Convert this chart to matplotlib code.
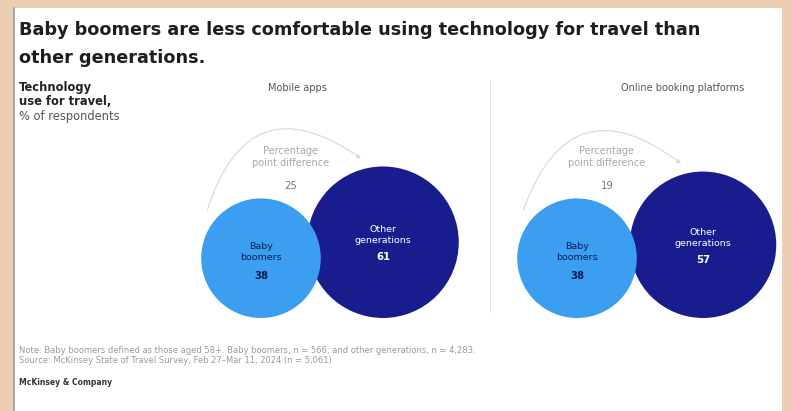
import matplotlib.pyplot as plt
from matplotlib.patches import Circle, Rectangle

# survey values, % of respondents
panels = ['Mobile apps', 'Online booking platforms']
boomers = [38, 38]
others = [61, 57]
pp_diff = [25, 19]

W, H = 792, 411
BEIGE = '#ecceb4'
LIGHT = '#3c9ef0'
DARK = '#181c8c'

fig = plt.figure(figsize=(W / 100, H / 100), dpi=100)
ax = fig.add_axes([0, 0, 1, 1])
ax.set_xlim(0, W)
ax.set_ylim(H, 0)
ax.axis('off')
fig.patch.set_facecolor(BEIGE)

# white card with a thin grey left edge
ax.add_patch(Rectangle((14, 8), 768, 420, facecolor='white', edgecolor='none', zorder=0))
ax.plot([14, 14], [8, H], color='#9a9a9a', lw=1.2, zorder=1)

ax.text(19, 30, 'Baby boomers are less comfortable using technology for travel than',
        fontsize=12.7, fontweight='bold', color='#1e1e1e', va='center')
ax.text(19, 58, 'other generations.', fontsize=12.7, fontweight='bold',
        color='#1e1e1e', va='center')

ax.text(19, 88, 'Technology', fontsize=8.3, fontweight='bold', color='#222222', va='center')
ax.text(19, 101, 'use for travel,', fontsize=8.3, fontweight='bold', color='#222222', va='center')
ax.text(19, 116, '% of respondents', fontsize=8.3, color='#555555', va='center')

# divider between the two panels
ax.plot([490, 490], [80, 312], color='#e4e4e4', lw=0.8)

k = 9.7          # radius scale, area proportional to value
base_y = 318     # circles sit on a common baseline
light_x = [261, 577]
dark_x = [383, 703]
title_x = [297, 683]

for i, name in enumerate(panels):
    ax.text(title_x[i], 88, name, fontsize=7, color='#555555', ha='center', va='center')

    rb = k * boomers[i] ** 0.5
    ro = k * others[i] ** 0.5
    cb = (light_x[i], base_y - rb)
    co = (dark_x[i], base_y - ro)
    ax.add_patch(Circle(co, ro, facecolor=DARK, edgecolor='none', zorder=2))
    ax.add_patch(Circle(cb, rb, facecolor=LIGHT, edgecolor='none', zorder=3))

    ax.text(cb[0], cb[1] - 6, 'Baby\nboomers', fontsize=6.8, color='#0b1e52',
            ha='center', va='center', linespacing=1.3, zorder=4)
    ax.text(cb[0], cb[1] + 18, str(boomers[i]), fontsize=7.3, fontweight='bold',
            color='#0b1e52', ha='center', va='center', zorder=4)
    ax.text(co[0], co[1] - 7, 'Other\ngenerations', fontsize=6.8, color='white',
            ha='center', va='center', linespacing=1.3, zorder=4)
    ax.text(co[0], co[1] + 15, str(others[i]), fontsize=7.3, fontweight='bold',
            color='white', ha='center', va='center', zorder=4)

    # curved arrow from the smaller circle to the larger one
    ax.annotate('', xy=(co[0] - 22, co[1] - ro - 8), xytext=(cb[0] - rb + 6, cb[1] - rb + 12),
                arrowprops=dict(arrowstyle='-|>', color='#d8d8d8', lw=0.8,
                                mutation_scale=6, shrinkA=0, shrinkB=0,
                                connectionstyle='arc3,rad=-0.68'), zorder=1)
    mid_x = cb[0] + 30
    ax.text(mid_x, 157, 'Percentage\npoint difference', fontsize=7, color='#a8a8a8',
            ha='center', va='center', linespacing=1.3)
    ax.text(mid_x, 186, str(pp_diff[i]), fontsize=7.3, color='#777777',
            ha='center', va='center')

ax.text(19, 350, 'Note: Baby boomers defined as those aged 58+. Baby boomers, n = 566; '
        'and other generations, n = 4,283.', fontsize=6, color='#9a9a9a', va='center')
ax.text(19, 360, 'Source: McKinsey State of Travel Survey, Feb 27\u2013Mar 11, 2024 (n = 5,061)',
        fontsize=6, color='#9a9a9a', va='center')
ax.text(19, 382, 'McKinsey & Company', fontsize=5.5, fontweight='bold', color='#333333',
        va='center')

fig.savefig('out.png', dpi=100, facecolor=BEIGE)
